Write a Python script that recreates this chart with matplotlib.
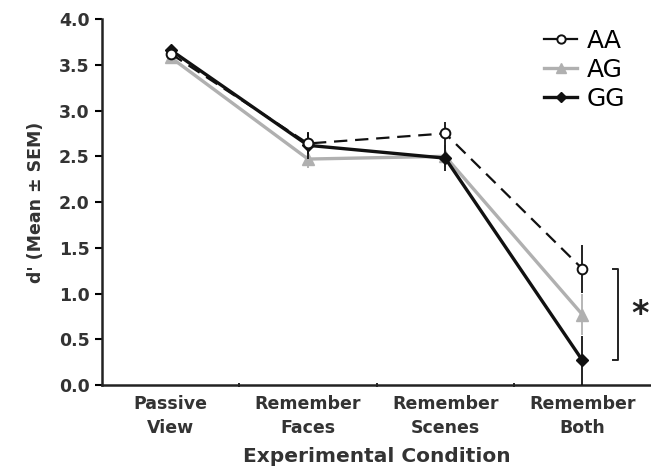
import matplotlib
matplotlib.use("Agg")
import matplotlib.pyplot as plt
from matplotlib.lines import Line2D
import numpy as np

categories = ["Passive\nView", "Remember\nFaces", "Remember\nScenes", "Remember\nBoth"]
aa_mean = [3.62, 2.64, 2.75, 1.27]
aa_sem = [0.05, 0.12, 0.13, 0.26]
ag_mean = [3.58, 2.47, 2.50, 0.77]
ag_sem = [0.05, 0.10, 0.12, 0.22]
gg_mean = [3.66, 2.62, 2.48, 0.27]
gg_sem = [0.04, 0.15, 0.14, 0.27]
y_ticks = [0.0, 0.5, 1.0, 1.5, 2.0, 2.5, 3.0, 3.5, 4.0]

plt.rcParams["font.family"] = ["DejaVu Sans"]

fig = plt.figure(figsize=(6.51, 4.76), dpi=100)
ax = fig.add_axes([0.157, 0.191, 0.843, 0.769])
x = np.arange(len(categories))

gray = "#b0b0b0"
dark = "#111111"

ax.errorbar(x, ag_mean, yerr=ag_sem, color=gray, lw=2.4, marker="^",
            ms=8, mfc=gray, mec=gray, ecolor=gray,
            elinewidth=1.3, capsize=0, zorder=2)
ax.errorbar(x, gg_mean, yerr=gg_sem, color=dark, lw=2.4, marker="D",
            ms=6.5, mfc=dark, mec=dark, ecolor=dark,
            elinewidth=1.3, capsize=0, zorder=3)
ax.errorbar(x, aa_mean, yerr=aa_sem, color=dark, lw=1.6, ls=(0, (6, 3.5)),
            marker="o", ms=7, mfc="white", mec=dark, mew=1.4,
            ecolor=dark, elinewidth=1.3, capsize=0, zorder=4)

handles = [
    Line2D([], [], color=dark, lw=1.6, marker="o", ms=6, mfc="white", mec=dark, mew=1.4),
    Line2D([], [], color=gray, lw=2.4, marker="^", ms=7, mfc=gray, mec=gray),
    Line2D([], [], color=dark, lw=2.4, marker="D", ms=5.5, mfc=dark, mec=dark),
]
ax.legend(handles, ["AA", "AG", "GG"], loc="upper right",
          bbox_to_anchor=(0.985, 1.02), frameon=False, fontsize=18,
          handlelength=1.3, handletextpad=0.4, labelspacing=0.2,
          borderpad=0.2)

# significance bracket between AA and GG on the last condition
bx = 3.26
ax.plot([bx - 0.04, bx, bx, bx - 0.04], [aa_mean[3], aa_mean[3], gg_mean[3], gg_mean[3]],
        color="#222222", lw=1.4, clip_on=False)
ax.text(bx + 0.16, (aa_mean[3] + gg_mean[3]) / 2, "*", fontsize=24,
        ha="center", va="center", color="#222222", fontweight="bold")

ax.set_xlim(-0.5, 3.5)
ax.set_ylim(0, 4.0)
ax.set_yticks(y_ticks)
ax.set_yticklabels([f"{v:.1f}" for v in y_ticks], fontsize=12.5, fontweight="bold",
                   color="#333333")
ax.set_xticks(x)
ax.set_xticklabels(categories, fontsize=12.5, fontweight="bold", color="#333333",
                   linespacing=1.45)
ax.set_xticks([0.5, 1.5, 2.5], minor=True)
ax.tick_params(axis="x", which="major", length=0, pad=7)
ax.tick_params(axis="x", which="minor", length=3, direction="inout", width=1.2)
ax.tick_params(axis="y", length=5, width=1.5, pad=4)

for s in ["top", "right"]:
    ax.spines[s].set_visible(False)
for s in ["left", "bottom"]:
    ax.spines[s].set_linewidth(1.8)
    ax.spines[s].set_color("#222222")

ax.set_xlabel("Experimental Condition", fontsize=14.5, fontweight="bold",
              color="#333333", labelpad=7)
ax.set_ylabel("d' (Mean ± SEM)", fontsize=12.5, fontweight="bold",
              color="#333333", labelpad=10)

fig.savefig("out.png", dpi=100)
